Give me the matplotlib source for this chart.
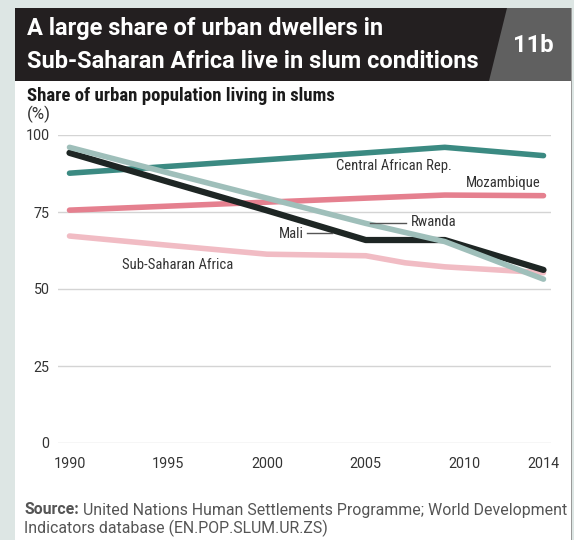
import matplotlib
matplotlib.use("Agg")
import matplotlib.pyplot as plt
from matplotlib import font_manager
from matplotlib.patches import Rectangle, Polygon

# ---- data ----
years_car = [1990, 1995, 2000, 2005, 2009, 2014]
car = [87.6, 89.8, 92.0, 94.2, 96.0, 93.3]

years_moz = [1990, 1995, 2000, 2005, 2009, 2014]
mozambique = [75.6, 76.9, 78.2, 79.5, 80.5, 80.3]

years_rwa = [1990, 1995, 2000, 2005, 2009, 2014]
rwanda = [96.0, 87.7, 79.5, 71.3, 65.4, 53.2]

years_mali = [1990, 1995, 2000, 2005, 2009, 2014]
mali = [94.2, 84.8, 75.5, 65.9, 65.9, 56.2]

years_ssa = [1990, 1995, 2000, 2005, 2007, 2009, 2014]
ssa = [67.2, 64.2, 61.3, 60.8, 58.5, 57.2, 55.3]

xticks = [1990, 1995, 2000, 2005, 2010, 2014]
yticks = [0, 25, 50, 75, 100]

# ---- fonts: a narrow one (labels) and a normal-width one (ticks, title) ----
entries = font_manager.fontManager.ttflist
names = {e.name for e in entries}
STRETCH = "normal"
narrow = None
for cand in ["Liberation Sans Narrow", "Roboto Condensed", "Arial Narrow",
             "Open Sans Condensed"]:
    if cand in names:
        narrow = cand
        break
if narrow is None:
    cond = [e for e in entries if e.name == "DejaVu Sans" and
            (str(e.stretch) in ("condensed", "semi-condensed") or
             (isinstance(e.stretch, int) and e.stretch < 500))]
    if cond:
        narrow = "DejaVu Sans"
        STRETCH = "condensed"
if narrow is None:
    for cand in ["Roboto", "Liberation Sans"]:
        if cand in names:
            narrow = cand
            break
if narrow is None:
    narrow = "DejaVu Sans"
regular = "Roboto" if "Roboto" in names else ("Liberation Sans" if "Liberation Sans" in names else "DejaVu Sans")

NARROW = [narrow, "DejaVu Sans"]
REG = [regular, "DejaVu Sans"]
plt.rcParams["font.family"] = NARROW
plt.rcParams["font.stretch"] = STRETCH

W, H = 574, 540
fig = plt.figure(figsize=(W / 100, H / 100), dpi=100)
fig.patch.set_facecolor("white")
renderer = fig.canvas.get_renderer()


def fx(px):
    return px / W


def fy(py):
    return 1 - py / H


def fit(t, target_px, maxsize=None):
    """scale a text so its rendered width equals target_px"""
    bb = t.get_window_extent(renderer=renderer)
    size = t.get_fontsize() * target_px / bb.width
    if maxsize is not None:
        size = min(size, maxsize)
    t.set_fontsize(size)
    return t


# background strips
fig.patches.append(Rectangle((0, 0), fx(15), 1, transform=fig.transFigure,
                             facecolor="#dde6e4", edgecolor="none", zorder=0))
fig.patches.append(Rectangle((0, fy(7.5)), 1, 7.5 / H, transform=fig.transFigure,
                             facecolor="#dde6e4", edgecolor="none", zorder=0))
fig.patches.append(Rectangle((fx(571), 0), 3 / W, 1, transform=fig.transFigure,
                             facecolor="#dde6e4", edgecolor="none", zorder=0))
fig.patches.append(Rectangle((fx(570.5), 0), 1 / W, fy(7.5), transform=fig.transFigure,
                             facecolor="#9a9a9a", edgecolor="none", zorder=0))

# header
fig.patches.append(Rectangle((fx(15), fy(81)), fx(571) - fx(15), (81 - 7.5) / H,
                             transform=fig.transFigure, facecolor="#231f20",
                             edgecolor="none", zorder=1))
fig.patches.append(Polygon([(fx(507), fy(7.5)), (fx(571), fy(7.5)),
                            (fx(571), fy(81)), (fx(489), fy(81))],
                           closed=True, transform=fig.transFigure,
                           facecolor="#606060", edgecolor="none", zorder=2))
t1 = fig.text(fx(27), fy(29), "A large share of urban dwellers in", color="white",
              fontsize=16, fontweight="bold", va="center", ha="left", zorder=3,
              family=REG)
t2 = fig.text(fx(27), fy(61), "Sub-Saharan Africa live in slum conditions", color="white",
              fontsize=16, fontweight="bold", va="center", ha="left", zorder=3,
              family=REG)
fit(t2, 454, maxsize=17.5)
t1.set_fontsize(t2.get_fontsize())
t3 = fig.text(fx(533), fy(46), "11b", color="white", fontsize=16, fontweight="bold",
              va="center", ha="center", zorder=3, family=REG)
fit(t3, 41, maxsize=17.5)

st = fig.text(fx(27), fy(96), "Share of urban population living in slums", color="#1a1a1a",
              fontsize=12.5, fontweight="bold", va="center", ha="left")
fit(st, 328, maxsize=13.5)
fig.text(fx(27), fy(114), "(%)", color="#333333", fontsize=st.get_fontsize() * 0.9,
         va="center", ha="left", family=REG)

# axes
ax = fig.add_axes([fx(58), fy(443), (551 - 58) / W, (443 - 135) / H])
ax.set_facecolor("none")
ppy = 474 / 24
ax.set_xlim(1990 - 11.5 / ppy, 2014 + 7.5 / ppy)
ax.set_ylim(0, 100)
for s in ax.spines.values():
    s.set_visible(False)
ax.set_yticks(yticks)
ax.set_xticks(xticks)
ax.set_xticklabels([str(t) for t in xticks])

# tick label size: fit "1990" to ~32 px
probe = fig.text(0, 0, "1990", fontsize=11, family=REG)
fit(probe, 32, maxsize=12)
tick_size = probe.get_fontsize()
probe.remove()

ax.tick_params(axis="both", length=0, labelsize=tick_size, labelcolor="#333333",
               labelfontfamily=regular)
ax.tick_params(axis="y", pad=6)
ax.tick_params(axis="x", pad=10)
ax.yaxis.grid(True, color="#d4d4d4", linewidth=1)
ax.set_axisbelow(True)

lw = 4.0
ax.plot(years_ssa, ssa, color="#f1bcc4", lw=lw, solid_capstyle="round", clip_on=False, zorder=2)
ax.plot(years_moz, mozambique, color="#e5808f", lw=lw, solid_capstyle="round", clip_on=False, zorder=3)
ax.plot(years_car, car, color="#3b8a82", lw=lw, solid_capstyle="round", clip_on=False, zorder=3)
ax.plot(years_mali, mali, color="#1e2624", lw=4.5, solid_capstyle="round", clip_on=False, zorder=4)
ax.plot(years_rwa, rwanda, color="#9fbfba", lw=lw, solid_capstyle="round", clip_on=False, zorder=5)


def dx(px):
    return 1990 + (px - 69.5) / ppy


def dy(py):
    return (443 - py) / 3.08


lab_kw = dict(fontsize=11, color="#333333", va="center")
la = ax.text(dx(336), dy(166), "Central African Rep.", ha="left", **lab_kw)
fit(la, 115, maxsize=12)
lsize = la.get_fontsize()
lab_kw["fontsize"] = lsize
ax.text(dx(541), dy(183), "Mozambique", ha="right", **lab_kw)
ax.text(dx(411), dy(222.5), "Rwanda", ha="left", **lab_kw)
ax.plot([dx(370), dx(406)], [dy(222.5), dy(222.5)], color="#555555", lw=1, zorder=6)
ax.text(dx(304), dy(234), "Mali", ha="right", **lab_kw)
ax.plot([dx(307), dx(332)], [dy(233.5), dy(233.5)], color="#555555", lw=1, zorder=6)
ax.text(dx(122), dy(265), "Sub-Saharan Africa", ha="left", **lab_kw)

# source
s1 = fig.text(fx(24), fy(510), "Source:", color="#555555", fontsize=11, fontweight="bold",
              va="center", ha="left", family=REG)
s2 = fig.text(fx(24), fy(510), " United Nations Human Settlements Programme; World Development",
              color="#555555", fontsize=11, va="center", ha="left", family=REG)
w1 = s1.get_window_extent(renderer=renderer).width
w2 = s2.get_window_extent(renderer=renderer).width
scale = min(538 / (w1 + w2), 1.2)
src_size = 11 * scale
s1.set_fontsize(src_size)
s2.set_fontsize(src_size)
w1 = s1.get_window_extent(renderer=renderer).width
s2.set_x(fx(24 + w1))
fig.text(fx(24), fy(528), "Indicators database (EN.POP.SLUM.UR.ZS)", color="#555555",
         fontsize=src_size, va="center", ha="left", family=REG)

fig.savefig("out.png", dpi=100, facecolor="white")
